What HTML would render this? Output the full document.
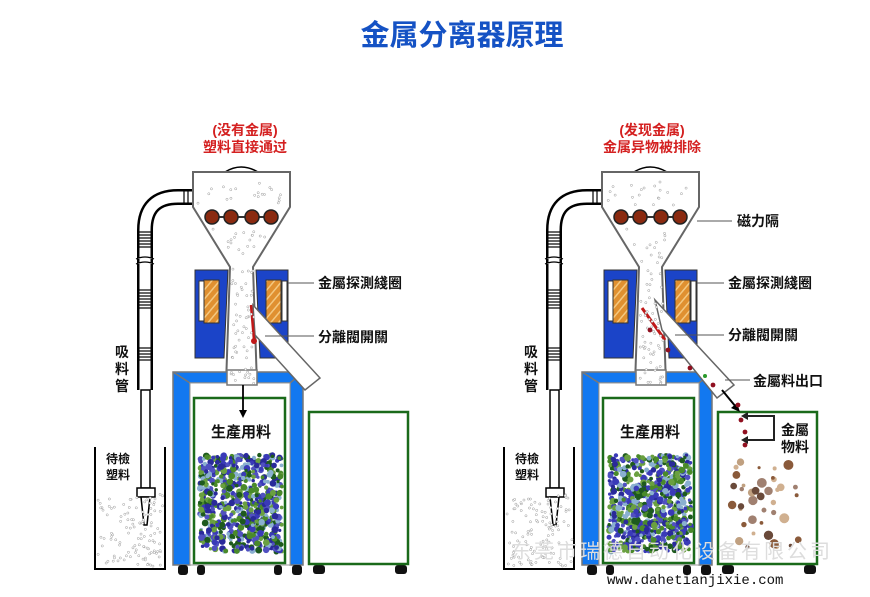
<!DOCTYPE html>
<html><head><meta charset="utf-8">
<style>
html,body{margin:0;padding:0;background:#fff;}
svg{display:block;}
text{font-family:"Liberation Sans","Noto Sans CJK SC",sans-serif;}
</style></head>
<body>
<svg id="s" width="870" height="597" viewBox="0 0 870 597" xmlns="http://www.w3.org/2000/svg">
<defs>
<pattern id="coil" width="6" height="6" patternUnits="userSpaceOnUse" patternTransform="rotate(-50)">
<rect width="6" height="6" fill="#e09030"/><rect width="6" height="1.5" fill="#f4c880"/>
</pattern>
<g id="mach">
 <path d="M145,390 L145,230 Q145,197 178,197 L192,197" fill="none" stroke="#000" stroke-width="16"/>
 <path d="M145,390 L145,230 Q145,197 178,197 L192,197" fill="none" stroke="#fff" stroke-width="11"/>
 <g stroke="#000" stroke-width="1.2">
  <line x1="138" y1="232" x2="152" y2="232"/><line x1="138" y1="235" x2="152" y2="235"/><line x1="138" y1="238" x2="152" y2="238"/><line x1="138" y1="241" x2="152" y2="241"/><line x1="138" y1="244" x2="152" y2="244"/><line x1="138" y1="247" x2="152" y2="247"/>
  <line x1="138" y1="290" x2="152" y2="290"/><line x1="138" y1="293" x2="152" y2="293"/><line x1="138" y1="296" x2="152" y2="296"/><line x1="138" y1="299" x2="152" y2="299"/><line x1="138" y1="302" x2="152" y2="302"/><line x1="138" y1="305" x2="152" y2="305"/><line x1="138" y1="308" x2="152" y2="308"/>
  <line x1="138" y1="348" x2="152" y2="348"/><line x1="138" y1="351" x2="152" y2="351"/><line x1="138" y1="354" x2="152" y2="354"/><line x1="138" y1="357" x2="152" y2="357"/><line x1="138" y1="360" x2="152" y2="360"/>
  <line x1="184" y1="190" x2="184" y2="204"/><line x1="188" y1="190" x2="188" y2="204"/>
 </g>
 <path d="M136,259 Q145,255 154,259 M136,264 Q145,260 154,264" fill="#fff" stroke="#000" stroke-width="1.2"/>
 <rect x="141" y="390" width="9" height="98" fill="#fff" stroke="#000" stroke-width="1.5"/>
 <rect x="137" y="488" width="18" height="9" fill="#fff" stroke="#000" stroke-width="1.5"/>
 <path d="M141,497 L150,497 L147,525 L144,525 Z" fill="#fff" stroke="#000" stroke-width="1.5"/>
 <path d="M95,447 L95,569 L165,569 L165,447" fill="none" stroke="#000" stroke-width="2"/>
 <path d="M225,172 Q241,162 258,172" fill="none" stroke="#000" stroke-width="1.5"/>
 <path d="M193,172 L290,172 L290,207 L253,267 L257,385 L226,385 L230,267 L193,207 Z" fill="#fff" stroke="#666" stroke-width="2"/>
 <path d="M195,270 L228,270 L224,358 L195,358 Z" fill="#1b44c8" stroke="#333" stroke-width="1"/>
 <path d="M256,270 L288,270 L288,358 L260,358 Z" fill="#1b44c8" stroke="#333" stroke-width="1"/>
 <rect x="199" y="281" width="5" height="40" fill="#fff" stroke="#333" stroke-width="1"/>
 <rect x="282" y="281" width="5" height="40" fill="#fff" stroke="#333" stroke-width="1"/>
 <rect x="204" y="280" width="15" height="43" fill="url(#coil)" stroke="#333" stroke-width="1"/>
 <rect x="266" y="280" width="15" height="43" fill="url(#coil)" stroke="#333" stroke-width="1"/>
 <line x1="210" y1="217" x2="274" y2="217" stroke="#333" stroke-width="2"/>
 <g fill="#8a2a10" stroke="#222" stroke-width="1.5">
  <circle cx="212" cy="217" r="7"/><circle cx="231" cy="217" r="7"/><circle cx="252" cy="217" r="7"/><circle cx="271" cy="217" r="7"/>
 </g>
 <path d="M173,372 L303,372 L303,565 L290,565 L290,383 L190,383 L190,565 L173,565 Z" fill="#1278f0" stroke="#777" stroke-width="1.5"/>
 <path d="M173,372 L190,383 M303,372 L290,383" stroke="#777" stroke-width="1.5"/>
 <rect x="190" y="383" width="100" height="182" fill="#fff" stroke="#999" stroke-width="1"/>
 <rect x="194" y="398" width="91" height="165" fill="#fff" stroke="#1a6a1a" stroke-width="2.5"/>
 <rect x="227" y="370" width="30" height="15" fill="#fff" stroke="#777" stroke-width="1.5"/>
 <g fill="#111">
  <rect x="178" y="565" width="10" height="10" rx="3"/><rect x="197" y="565" width="8" height="10" rx="3"/>
  <rect x="274" y="565" width="8" height="10" rx="3"/><rect x="292" y="565" width="10" height="10" rx="3"/>
  <rect x="313" y="565" width="12" height="9" rx="3"/><rect x="395" y="565" width="12" height="9" rx="3"/>
 </g>
 <rect x="309" y="412" width="99" height="152" fill="#fff" stroke="#1a6a1a" stroke-width="2.5"/>
</g>
</defs>

<text x="462" y="45" text-anchor="middle" font-size="29" font-weight="bold" fill="#1552c4" style="font-family:'Noto Sans CJK SC',sans-serif">金属分离器原理</text>

<use href="#mach"/>
<use href="#mach" transform="translate(409,0)"/>

<path d="M253,305 L320,378 L305,390 L255,335 Z" fill="#fff" stroke="#666" stroke-width="1.5"/>
<line x1="251" y1="305" x2="254" y2="340" stroke="#c01818" stroke-width="2.5"/>
<circle cx="254" cy="341" r="3" fill="#c01818"/>
<line x1="243" y1="385" x2="243" y2="412" stroke="#000" stroke-width="1.8"/>
<path d="M239,410 L243,418 L247,410 Z" fill="#000"/>

<path d="M655,300 L734,385 L717,398 L662,330 Z" fill="#fff" stroke="#666" stroke-width="1.5"/>
<line x1="642" y1="308" x2="665" y2="340" stroke="#c01818" stroke-width="3"/>
<line x1="722" y1="390" x2="736" y2="407" stroke="#000" stroke-width="2"/>
<path d="M731,408 L740,412 L737,403 Z" fill="#000"/>
<path d="M744,416 L774,416 L774,440 L744,440" fill="none" stroke="#222" stroke-width="2"/>
<path d="M748,412 L741,416 L748,420 Z M748,436 L741,440 L748,444 Z" fill="#222"/>

<g id="dots"></g>

<g stroke="#555" stroke-width="1">
<line x1="288" y1="283" x2="314" y2="283"/>
<line x1="265" y1="336" x2="314" y2="336"/>
<line x1="697" y1="221" x2="732" y2="221"/>
<line x1="697" y1="283" x2="724" y2="283"/>
<line x1="675" y1="335" x2="724" y2="335"/>
<line x1="725" y1="380" x2="750" y2="380"/>
</g>

<g font-weight="bold" fill="#111" font-size="14">
<text x="318" y="288">金屬探測綫圈</text>
<text x="318" y="342">分離閥開關</text>
<text x="737" y="226">磁力隔</text>
<text x="728" y="288">金屬探測綫圈</text>
<text x="728" y="340">分離閥開關</text>
<text x="753" y="386">金屬料出口</text>
<text x="211" y="437" font-size="15">生產用料</text>
<text x="620" y="437" font-size="15">生產用料</text>
<text x="781" y="435">金屬</text>
<text x="781" y="452">物料</text>
<text x="115" y="357">吸</text><text x="115" y="374">料</text><text x="115" y="391">管</text>
<text x="524" y="357">吸</text><text x="524" y="374">料</text><text x="524" y="391">管</text>
<text x="106" y="463" font-size="12">待檢</text><text x="106" y="479" font-size="12">塑料</text>
<text x="515" y="463" font-size="12">待檢</text><text x="515" y="479" font-size="12">塑料</text>
</g>
<g font-weight="bold" fill="#d42020" font-size="14" text-anchor="middle">
<text x="245" y="135">(没有金属)</text>
<text x="245" y="152">塑料直接通过</text>
<text x="652" y="135">(发现金属)</text>
<text x="652" y="152">金属异物被排除</text>
</g>
<text x="672" y="558" text-anchor="middle" font-size="20" fill="#dddddd" style="letter-spacing:3px">东莞市瑞德自动化设备有限公司</text>
<text x="607" y="584" font-size="14" fill="#111" style="font-family:'Liberation Mono',monospace">www.dahetianjixie.com</text>
</svg>
<script>
var seed=7;function r(){seed=(seed*16807)%2147483647;return seed/2147483647;}
var NS="http://www.w3.org/2000/svg",g=document.getElementById("dots");
function c(x,y,rad,f,st){var e=document.createElementNS(NS,"circle");e.setAttribute("cx",x);e.setAttribute("cy",y);e.setAttribute("r",rad);e.setAttribute("fill",f);if(st){e.setAttribute("stroke",st);e.setAttribute("stroke-width",0.5);}g.appendChild(e);}
function region(x0,x1,y0,y1,n,fn){for(var i=0;i<n;i++){var x=x0+r()*(x1-x0),y=y0+r()*(y1-y0);if(!fn||fn(x,y))c(x,y,1.1,"#fff","#999");}}
[0,409].forEach(function(o){
 region(198+o,286+o,182,205,20);
 region(200+o,285+o,226,266,35,function(x,y){var t=(y-207)/60;return x>193+o+37*t+4&&x<290+o-37*t-4;});
 region(231+o,254+o,268,384,60);
 region(98+o,163+o,490,567,130,function(x,y){return y>500-(x-o-98)*0.1;});
 var cols=["#2a2a9a","#3a3ab8","#4a8a2a","#6aa040","#8ab0d0","#1e5a1e","#5050c0"];
 for(var i=0;i<700;i++){c(200+o+r()*82,455+r()*97,1.6+r()*1.8,cols[Math.floor(r()*cols.length)]);}
});
[[650,330],[668,350],[690,368],[713,385],[738,405],[741,420],[745,432],[745,445]].forEach(function(p){c(p[0],p[1],2.4,"#901020");});
c(705,376,2,"#2a9a2a");
var dc=["#8a5a3a","#c0a080","#6a4a3a","#a08070","#d0b090"];
for(var i=0;i<40;i++){c(730+r()*72,458+r()*90,1.5+r()*3.5,dc[Math.floor(r()*dc.length)]);}
</script>
</body></html>
